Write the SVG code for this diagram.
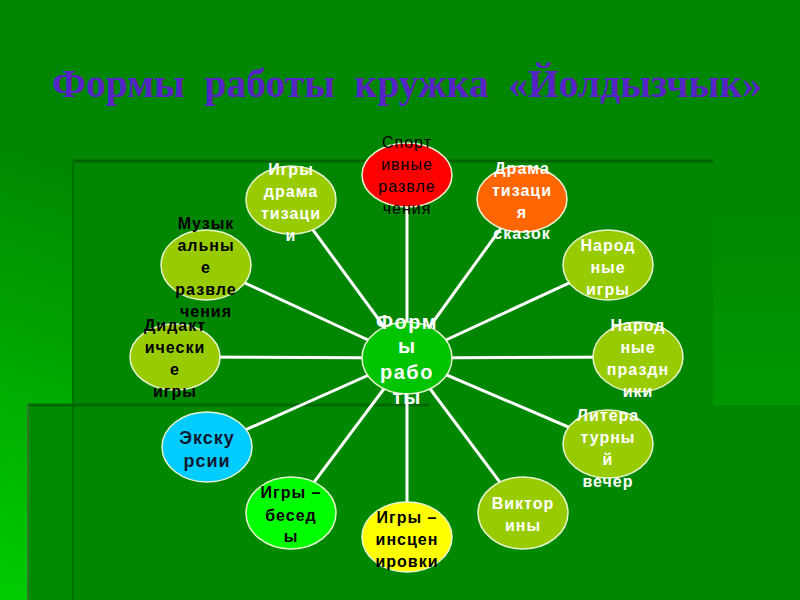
<svg xmlns="http://www.w3.org/2000/svg" width="800" height="600" viewBox="0 0 800 600">
<defs>
<linearGradient id="bg" x1="0" y1="1" x2="0.3" y2="0.35">
<stop offset="0" stop-color="#00cc00"/>
<stop offset="1" stop-color="#008600"/>
</linearGradient>
<linearGradient id="bgR" x1="0" y1="0" x2="0" y2="1">
<stop offset="0" stop-color="#008600"/>
<stop offset="1" stop-color="#009600"/>
</linearGradient>
<style>
.node{stroke:#e8f5d0;stroke-width:1.5}
.yg{fill:#99cc00}
.conn line{stroke:#ffffff;stroke-width:3}
text{font-family:"Liberation Sans",Arial,sans-serif;font-size:16px;text-anchor:middle;letter-spacing:1px}
.w{fill:#ffffff;font-weight:bold}
.b{fill:#000000;font-weight:bold}
.n{fill:#000000;font-weight:normal}
.title{font-family:"Liberation Serif","Times New Roman",serif;font-size:41px;font-weight:bold;fill:#5624c4;letter-spacing:0;word-spacing:10px}
</style>
</defs>
<rect x="0" y="0" width="800" height="600" fill="url(#bg)"/>
<rect x="713" y="161" width="87" height="244" fill="url(#bgR)"/>
<rect x="73" y="161" width="640" height="244" fill="#008600"/>
<rect x="28" y="405" width="772" height="195" fill="#008a00"/>
<rect x="73" y="405" width="727" height="195" fill="#008800"/>
<line x1="73" y1="161" x2="713" y2="161" stroke="#006400" stroke-width="3"/>
<line x1="73" y1="161" x2="73" y2="600" stroke="#007000" stroke-width="2"/>
<line x1="28" y1="405" x2="430" y2="405" stroke="#006800" stroke-width="3"/>
<line x1="28" y1="405" x2="28" y2="600" stroke="#2a7a2a" stroke-width="2"/>

<text class="title" x="407" y="97" textLength="710" lengthAdjust="spacingAndGlyphs">Формы работы кружка «Йолдызчык»</text>

<g id="connectors" class="conn">
<line x1="407" y1="358" x2="407" y2="175"/>
<line x1="407" y1="358" x2="291" y2="200"/>
<line x1="407" y1="358" x2="206" y2="265"/>
<line x1="407" y1="358" x2="175" y2="357"/>
<line x1="407" y1="358" x2="207" y2="447"/>
<line x1="407" y1="358" x2="291" y2="513"/>
<line x1="407" y1="358" x2="407" y2="537"/>
<line x1="407" y1="358" x2="523" y2="513"/>
<line x1="407" y1="358" x2="608" y2="444"/>
<line x1="407" y1="358" x2="638" y2="357"/>
<line x1="407" y1="358" x2="608" y2="265"/>
<line x1="407" y1="358" x2="522" y2="199"/>
</g>

<g id="center">
<ellipse class="node" cx="407" cy="358" rx="45" ry="36" fill="#00c400"/>
<text class="w" style="font-size:20px;letter-spacing:1.5px" x="407" y="329">Форм</text>
<text class="w" style="font-size:20px" x="407" y="353">ы</text>
<text class="w" style="font-size:20px;letter-spacing:1.5px" x="407" y="379">рабо</text>
<text class="w" style="font-size:20px" x="407" y="404">ты</text>
</g>

<g id="sport">
<ellipse class="node" cx="407" cy="175" rx="45" ry="32" fill="#ff0000"/>
<text class="n" x="407" y="148">Спорт</text>
<text class="n" x="407" y="170">ивные</text>
<text class="n" x="407" y="192">развле</text>
<text class="n" x="407" y="214">чения</text>
</g>

<g id="igry-dram">
<ellipse class="node yg" cx="291" cy="200" rx="45" ry="34"/>
<text class="w" x="291" y="175">Игры</text>
<text class="w" x="291" y="197">драма</text>
<text class="w" x="291" y="219">тизаци</text>
<text class="w" x="291" y="241">и</text>
</g>

<g id="muz">
<ellipse class="node yg" cx="206" cy="265" rx="45" ry="35"/>
<text class="b" x="206" y="229">Музык</text>
<text class="b" x="206" y="251">альны</text>
<text class="b" x="206" y="273">е</text>
<text class="b" x="206" y="295">развле</text>
<text class="b" x="206" y="317">чения</text>
</g>

<g id="didakt">
<ellipse class="node yg" cx="175" cy="357" rx="45" ry="33"/>
<text class="b" x="175" y="331">Дидакт</text>
<text class="b" x="175" y="353">ически</text>
<text class="b" x="175" y="375">е</text>
<text class="b" x="175" y="397">игры</text>
</g>

<g id="ekskursii">
<ellipse class="node" cx="207" cy="447" rx="45" ry="35" fill="#00ccff"/>
<text class="b" style="font-size:18px;fill:#101830" x="207" y="444">Экску</text>
<text class="b" style="font-size:18px;fill:#101830" x="207" y="467">рсии</text>
</g>

<g id="besedy">
<ellipse class="node" cx="291" cy="513" rx="45" ry="36" fill="#00ff00"/>
<text class="b" x="291" y="498">Игры –</text>
<text class="b" x="291" y="521">бесед</text>
<text class="b" x="291" y="542">ы</text>
</g>

<g id="inscen">
<ellipse class="node" cx="407" cy="537" rx="45" ry="35" fill="#ffff00"/>
<text class="b" style="font-weight:600" x="407" y="523">Игры –</text>
<text class="b" style="font-weight:600" x="407" y="545">инсцен</text>
<text class="b" style="font-weight:600" x="407" y="567">ировки</text>
</g>

<g id="viktor">
<ellipse class="node yg" cx="523" cy="513" rx="45" ry="36"/>
<text class="w" x="523" y="509">Виктор</text>
<text class="w" x="523" y="531">ины</text>
</g>

<g id="liter">
<ellipse class="node yg" cx="608" cy="444" rx="45" ry="34"/>
<text class="w" x="608" y="421">Литера</text>
<text class="w" x="608" y="443">турны</text>
<text class="w" x="608" y="465">й</text>
<text class="w" x="608" y="487">вечер</text>
</g>

<g id="nar-prazd">
<ellipse class="node yg" cx="638" cy="357" rx="45" ry="35"/>
<text class="w" x="638" y="331">Народ</text>
<text class="w" x="638" y="353">ные</text>
<text class="w" x="638" y="375">праздн</text>
<text class="w" x="638" y="397">ики</text>
</g>

<g id="nar-igry">
<ellipse class="node yg" cx="608" cy="265" rx="45" ry="35"/>
<text class="w" x="608" y="251">Народ</text>
<text class="w" x="608" y="273">ные</text>
<text class="w" x="608" y="295">игры</text>
</g>

<g id="dram-skazok">
<ellipse class="node" cx="522" cy="199" rx="45" ry="33" fill="#ff6600"/>
<text class="w" x="522" y="174">Драма</text>
<text class="w" x="522" y="196">тизаци</text>
<text class="w" x="522" y="218">я</text>
<text class="w" x="522" y="239">сказок</text>
</g>
</svg>
